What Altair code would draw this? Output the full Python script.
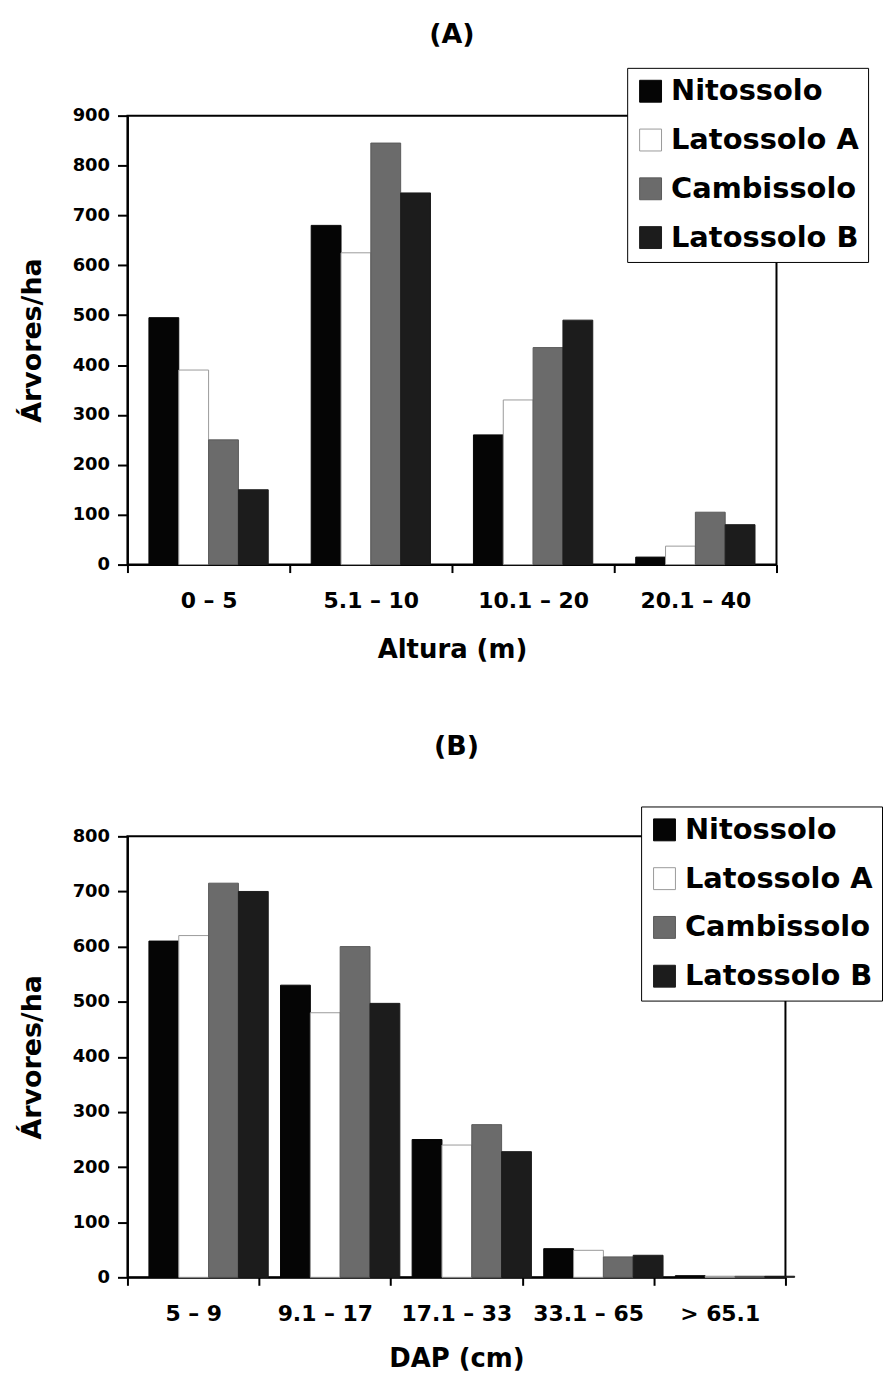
import altair as alt
import pandas as pd

soils = ["Nitossolo", "Latossolo A", "Cambissolo", "Latossolo B"]
fills = ["#050505", "#ffffff", "#6b6b6b", "#1c1c1c"]
strokes = ["#050505", "#9a9a9a", "#5a5a5a", "#1c1c1c"]

# Panel A: height classes
cats_a = ["0 – 5", "5.1 – 10", "10.1 – 20", "20.1 – 40"]
nito_a = [495, 680, 260, 15]
lata_a = [390, 625, 330, 37]
camb_a = [250, 845, 435, 105]
latb_a = [150, 745, 490, 80]

# Panel B: diameter classes
cats_b = ["5 – 9", "9.1 – 17", "17.1 – 33", "33.1 – 65", "> 65.1"]
nito_b = [610, 530, 250, 52, 3]
lata_b = [620, 480, 240, 49, 2]
camb_b = [715, 600, 277, 37, 2]
latb_b = [700, 497, 228, 40, 2]

FONT = "DejaVu Sans"


def panel(cats, series, ymax, title, xtitle, w, h, lx, ly, toff, xtp):
    rows = []
    for s, vals in zip(soils, series):
        for c, v in zip(cats, vals):
            rows.append({"classe": c, "solo": s, "valor": v})
    df = pd.DataFrame(rows)
    leg = alt.Legend(
        title=None, orient="none", legendX=lx, legendY=ly,
        labelFont=FONT, labelFontSize=29, labelFontWeight="bold", labelColor="black",
        symbolType="square", symbolSize=484, symbolStrokeWidth=1, labelOffset=6,
        rowPadding=19, padding=9, strokeColor="black", fillColor="white",
        labelLimit=400, symbolOpacity=1,
    )
    return alt.Chart(df, title=alt.TitleParams(title, fontSize=27, fontWeight="bold",
                                               font=FONT, color="black", offset=toff)).mark_bar(
        strokeWidth=1
    ).encode(
        x=alt.X("classe:N", sort=cats,
                scale=alt.Scale(paddingInner=0, paddingOuter=0),
                axis=alt.Axis(title=xtitle, labelAngle=0, tickBand="extent", tickSize=8,
                              labelFontSize=22, labelPadding=18, titleFontSize=26,
                              titlePadding=xtp)),
        xOffset=alt.XOffset("solo:N", sort=soils,
                            scale=alt.Scale(paddingInner=0, paddingOuter=0.72)),
        y=alt.Y("valor:Q", scale=alt.Scale(domain=[0, ymax], nice=False),
                axis=alt.Axis(values=list(range(0, ymax + 1, 100)), title="Árvores/ha",
                              labelFontSize=18, tickSize=10, labelPadding=8,
                              titleFontSize=27, titlePadding=26)),
        fill=alt.Fill("solo:N", sort=soils, scale=alt.Scale(domain=soils, range=fills), legend=leg),
        stroke=alt.Stroke("solo:N", sort=soils, scale=alt.Scale(domain=soils, range=strokes), legend=leg),
    ).properties(width=w, height=h)


chart_a = panel(cats_a, [nito_a, lata_a, camb_a, latb_a], 900, "(A)", "Altura (m)",
                652, 451, 502, -48, 18, 25)
chart_b = panel(cats_b, [nito_b, lata_b, camb_b, latb_b], 800, "(B)", "DAP (cm)",
                661, 443, 516, -30, 45, 22)

chart = alt.vconcat(chart_a, chart_b, spacing=69).resolve_scale(
    fill="independent", stroke="independent"
).resolve_legend(
    fill="independent", stroke="independent"
).properties(
    padding={"left": 9, "top": 9, "right": 0, "bottom": 0}
).configure_view(
    stroke="black", strokeWidth=2
).configure_axis(
    domainColor="black", domainWidth=2, tickColor="black", tickWidth=2,
    labelFont=FONT, labelFontWeight="bold", labelColor="black",
    titleFont=FONT, titleFontWeight="bold", titleColor="black", grid=False,
).configure_title(anchor="middle")

chart.save("out.html", embed_options={"renderer": "svg", "actions": False})
